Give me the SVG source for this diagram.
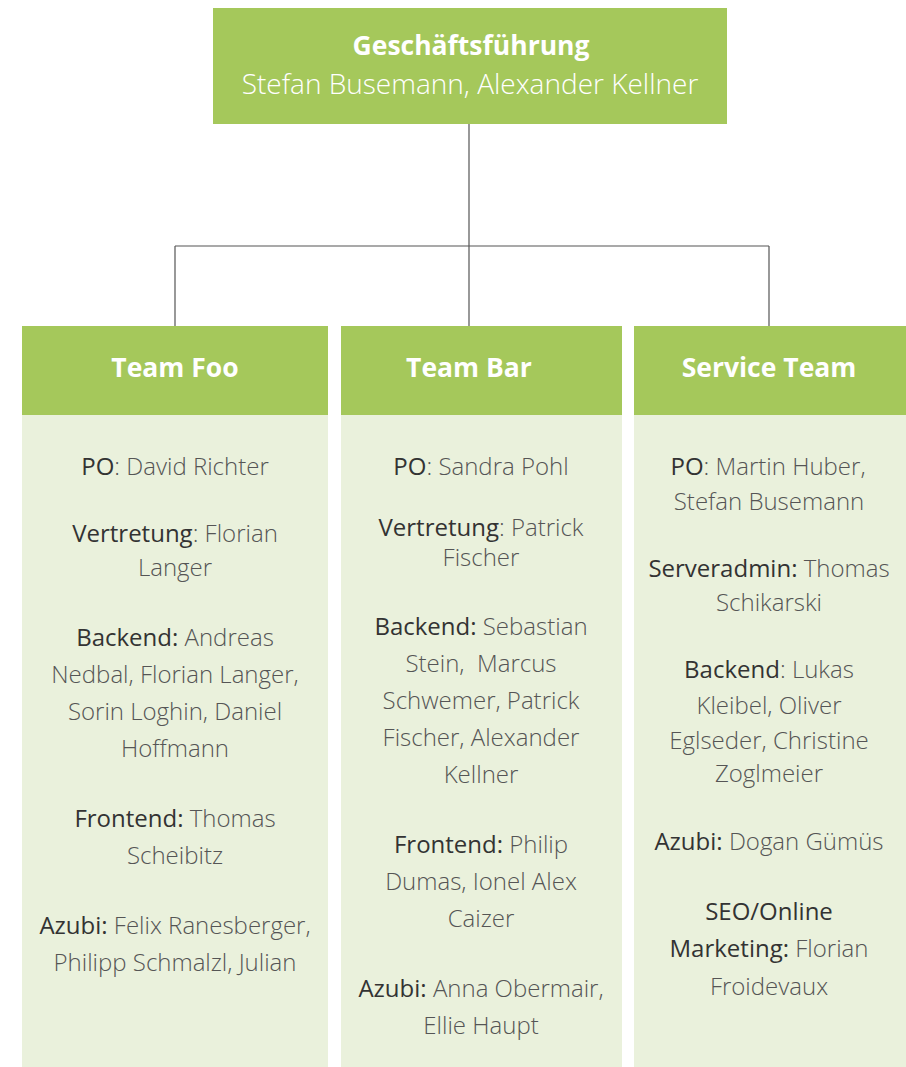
<svg xmlns="http://www.w3.org/2000/svg" width="906" height="1067" viewBox="0 0 906 1067">
<style>
.hdr{fill:#a5c85b}
.body{fill:#eaf1dc}
.conn{stroke:#555;stroke-width:1.2;fill:none}
text{font-family:"Open Sans","Liberation Sans",sans-serif;text-anchor:middle}
.w{fill:#fff}
.t1{font-size:26.5px;font-weight:700}
.t2{font-size:28px;font-weight:300}
.th{font-size:26.5px;font-weight:700}
.b{font-size:24px;font-weight:300;fill:#555}
.l{font-weight:400;fill:#333}
</style>
<rect width="906" height="1067" fill="#fff"/>
<g id="connectors">
<path class="conn" d="M469 124V326M175 246H769M175 246V326M769 246V326"/>
</g>
<g id="geschaeftsfuehrung">
<rect class="hdr" x="213" y="8" width="514" height="116"/>
<text class="w t1" x="471" y="55">Geschäftsführung</text>
<text class="w t2" x="470" y="94">Stefan Busemann, Alexander Kellner</text>
</g>
<g id="team-foo">
<rect class="hdr" x="22" y="326" width="306" height="89"/>
<rect class="body" x="22" y="415" width="306" height="652"/>
<text class="w th" x="175" y="377">Team Foo</text>
<text class="b" x="175" y="475"><tspan class="l">PO</tspan>: David Richter</text>
<text class="b" x="175" y="542"><tspan class="l">Vertretung</tspan>: Florian</text>
<text class="b" x="175" y="576">Langer</text>
<text class="b" x="175" y="646"><tspan class="l">Backend:</tspan> Andreas</text>
<text class="b" x="175" y="683">Nedbal, Florian Langer,</text>
<text class="b" x="175" y="720">Sorin Loghin, Daniel</text>
<text class="b" x="175" y="757">Hoffmann</text>
<text class="b" x="175" y="827"><tspan class="l">Frontend:</tspan> Thomas</text>
<text class="b" x="175" y="864">Scheibitz</text>
<text class="b" x="175" y="934"><tspan class="l">Azubi:</tspan> Felix Ranesberger,</text>
<text class="b" x="175" y="971">Philipp Schmalzl, Julian</text>
</g>
<g id="team-bar">
<rect class="hdr" x="341" y="326" width="281" height="89"/>
<rect class="body" x="341" y="415" width="281" height="652"/>
<text class="w th" x="469" y="377">Team Bar</text>
<text class="b" x="481" y="475"><tspan class="l">PO</tspan>: Sandra Pohl</text>
<text class="b" x="481" y="536"><tspan class="l">Vertretung</tspan>: Patrick</text>
<text class="b" x="481" y="566">Fischer</text>
<text class="b" x="481" y="635"><tspan class="l">Backend:</tspan> Sebastian</text>
<text class="b" x="481" y="672" xml:space="preserve">Stein,  Marcus</text>
<text class="b" x="481" y="709">Schwemer, Patrick</text>
<text class="b" x="481" y="746">Fischer, Alexander</text>
<text class="b" x="481" y="783">Kellner</text>
<text class="b" x="481" y="853"><tspan class="l">Frontend:</tspan> Philip</text>
<text class="b" x="481" y="890">Dumas, Ionel Alex</text>
<text class="b" x="481" y="927">Caizer</text>
<text class="b" x="481" y="997"><tspan class="l">Azubi:</tspan> Anna Obermair,</text>
<text class="b" x="481" y="1034">Ellie Haupt</text>
</g>
<g id="service-team">
<rect class="hdr" x="634" y="326" width="272" height="89"/>
<rect class="body" x="634" y="415" width="272" height="652"/>
<text class="w th" x="769" y="377">Service Team</text>
<text class="b" x="768" y="475"><tspan class="l">PO</tspan>: Martin Huber,</text>
<text class="b" x="769" y="510">Stefan Busemann</text>
<text class="b" x="769" y="577"><tspan class="l">Serveradmin:</tspan> Thomas</text>
<text class="b" x="769" y="611">Schikarski</text>
<text class="b" x="769" y="678"><tspan class="l">Backend</tspan>: Lukas</text>
<text class="b" x="769" y="714">Kleibel, Oliver</text>
<text class="b" x="769" y="749">Eglseder, Christine</text>
<text class="b" x="769" y="782">Zoglmeier</text>
<text class="b" x="769" y="850"><tspan class="l">Azubi:</tspan> Dogan Gümüs</text>
<text class="b" x="769" y="920"><tspan class="l">SEO/Online</tspan></text>
<text class="b" x="769" y="957"><tspan class="l">Marketing:</tspan> Florian</text>
<text class="b" x="769" y="995">Froidevaux</text>
</g>
</svg>
